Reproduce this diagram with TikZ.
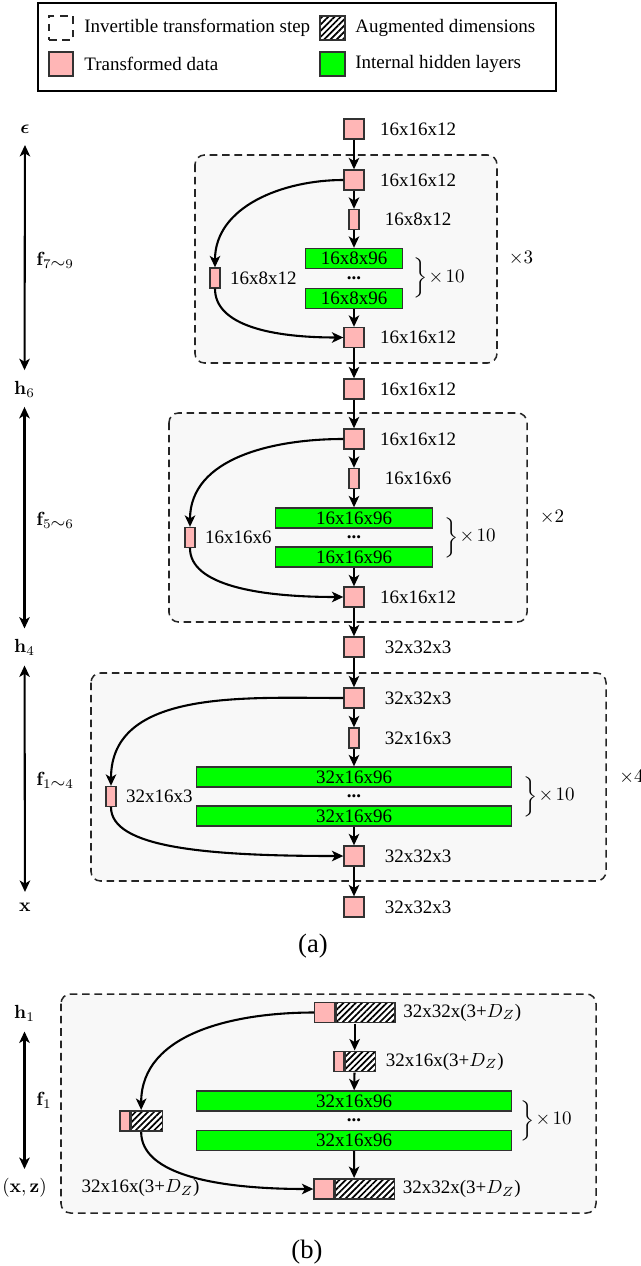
\documentclass[tikz,border=0pt]{standalone}
\usepackage{amsmath}
\usepackage{graphicx}
\usepackage[no-math]{fontspec}
\setmainfont{Liberation Serif}
\usetikzlibrary{arrows.meta,patterns.meta,fit}
\newdimen\mypx \mypx=0.5263pt
\definecolor{pinkbox}{RGB}{255,182,182}
\definecolor{greenbox}{RGB}{0,255,0}
\definecolor{edgegray}{RGB}{50,50,50}
\definecolor{blockbg}{RGB}{248,248,248}
\newcommand{\bracelbl}{\scalebox{1}[0.88]{$\bigg\}$}$\mkern1mu{\times}\mkern2mu 10$}
\newcommand{\dotsrow}{\textbf{...}}
\begin{document}
\begin{tikzpicture}[x=0.5263pt,y=0.5263pt,
  box/.style={draw=edgegray,line width=0.7pt,inner sep=0pt},
  sq/.style={box,fill=pinkbox,minimum width=20\mypx,minimum height=20\mypx},
  sm/.style={sq,minimum width=10\mypx},
  hid/.style={box,fill=greenbox,minimum height=20\mypx,minimum width=#1\mypx},
  hatch/.style={box,preaction={fill=white},pattern={Lines[angle=45,distance=2.3pt,line width=0.9pt]},minimum height=20\mypx,minimum width=#1\mypx},
  mytip/.tip={Stealth[length=6pt,width=5.5pt,inset=1.6pt]},
  arr/.style={line width=1.1pt,-mytip},
  dbl/.style={line width=1.1pt,mytip-mytip},
  lbl/.style={inner sep=0pt},
  blk/.style={draw=black!85,line width=0.8pt,dash pattern=on 4pt off 2.5pt,fill=blockbg,rounded corners=5pt},
  captext/.style={inner sep=0pt,font=\fontsize{14}{16}\selectfont}]
\useasboundingbox (0,0) rectangle (640,-1266);

% ---------- legend ----------
\draw[line width=0.6pt] (38,-3) rectangle (556,-91);
\node[draw=black!85,line width=0.7pt,dash pattern=on 4pt off 3pt,minimum width=24\mypx,minimum height=24\mypx,inner sep=0pt] (lgA) at (61,-28) {};
\node[lbl,anchor=west] (lgAt) at (84,-28) {Invertible transformation step};
\node[hatch=25,minimum height=24\mypx] (lgB) at (332.5,-28) {};
\node[lbl,anchor=west] (lgBt) at (355,-28) {Augmented dimensions};
\node[sq,minimum width=24\mypx,minimum height=24\mypx] (lgC) at (61,-64) {};
\node[lbl,anchor=west] (lgCt) at (84,-64) {Transformed data};
\node[box,fill=greenbox,minimum width=25\mypx,minimum height=24\mypx] (lgD) at (332.5,-64) {};
\node[lbl,anchor=west] (lgDt) at (355,-64) {Internal hidden layers};

% ---------- blocks (a) ----------
\draw[blk] (195,-155) rectangle (497,-363);
\draw[blk] (169,-413) rectangle (527,-622);
\draw[blk] (91,-673) rectangle (606,-881);

% top block f7~9
\node[sq] (s1) at (354,-129) {};
\node[lbl] (t1) at (418,-129) {16x16x12};
\node[sq] (s2) at (354,-180) {};
\node[lbl] (t2) at (418,-180) {16x16x12};
\node[sm] (s3) at (354,-219.5) {};
\node[lbl] (t3) at (418,-219.5) {16x8x12};
\node[hid=97.5] (g1) at (354,-258.5) {16x8x96};
\node[lbl] (d1) at (354,-278) {\dotsrow};
\node[hid=97.5] (g2) at (354,-298.5) {16x8x96};
\node[sm] (s4) at (215,-278) {};
\node[lbl,anchor=west] (t4) at ([xshift=9\mypx]s4.east) {16x8x12};
\node[sq] (s5) at (354,-337.5) {};
\node[lbl] (t5) at (418,-337.5) {16x16x12};
\node[lbl,anchor=west] (b1) at (413,-278) {\bracelbl};
\node[lbl] (m1) at (521,-258) {$\times 3$};

% middle block f5~6
\node[sq] (s6) at (354,-389) {};
\node[lbl] (t6) at (418,-389) {16x16x12};
\node[sq] (s7) at (354,-439) {};
\node[lbl] (t7) at (418,-439) {16x16x12};
\node[sm] (s8) at (354,-478.5) {};
\node[lbl] (t8) at (418,-478.5) {16x16x6};
\node[hid=157.5] (g3) at (354,-518) {16x16x96};
\node[lbl] (d2) at (354,-537.5) {\dotsrow};
\node[hid=157.5] (g4) at (354,-557) {16x16x96};
\node[sm] (s9) at (190,-537.5) {};
\node[lbl,anchor=west] (t9) at ([xshift=9\mypx]s9.east) {16x16x6};
\node[sq] (s10) at (354,-597) {};
\node[lbl] (t10) at (418,-597) {16x16x12};
\node[lbl,anchor=west] (b2) at (444,-537.5) {\bracelbl};
\node[lbl] (m2) at (552,-517) {$\times 2$};

% bottom block f1~4
\node[sq] (s11) at (354,-647) {};
\node[lbl] (t11) at (418,-647) {32x32x3};
\node[sq] (s12) at (354,-698) {};
\node[lbl] (t12) at (418,-698) {32x32x3};
\node[sm] (s13) at (354,-738) {};
\node[lbl] (t13) at (418,-738) {32x16x3};
\node[hid=315] (g5) at (354,-777) {32x16x96};
\node[lbl] (d3) at (354,-796.5) {\dotsrow};
\node[hid=315] (g6) at (354,-816) {32x16x96};
\node[sm] (s14) at (111,-796.5) {};
\node[lbl,anchor=west] (t14) at ([xshift=9\mypx]s14.east) {32x16x3};
\node[sq] (s15) at (354,-856) {};
\node[lbl] (t15) at (418,-856) {32x32x3};
\node[lbl,anchor=west] (b3) at (523,-796.5) {\bracelbl};
\node[lbl,anchor=west] (m3) at (619,-777) {$\times 4$};
\node[sq] (s16) at (354,-907) {};
\node[lbl] (t16) at (418,-907) {32x32x3};

% connectors (a)
\draw[arr] (s1) -- (s2);
\draw[arr] (s2) -- (s3);
\draw[arr] (s3) -- (g1);
\draw[arr] (g2) -- (s5);
\draw[arr] (s5) -- (s6);
\draw[arr] (s2.west) to[out=180,in=90] (s4.north);
\draw[arr] (s4.south) .. controls +(0,-37) and +(-71,0) .. (s5.west);

\draw[arr] (s6) -- (s7);
\draw[arr] (s7) -- (s8);
\draw[arr] (s8) -- (g3);
\draw[arr] (g4) -- (s10);
\draw[arr] (s10) -- (s11);
\draw[arr] (s7.west) to[out=180,in=90] (s9.north);
\draw[arr] (s9.south) .. controls +(0,-37) and +(-85,0) .. (s10.west);

\draw[arr] (s11) -- (s12);
\draw[arr] (s12) -- (s13);
\draw[arr] (s13) -- (g5);
\draw[arr] (g6) -- (s15);
\draw[arr] (s15) -- (s16);
\draw[arr] (s12.west) to[out=180,in=90] (s14.north);
\draw[arr] (s14.south) .. controls +(0,-40) and +(-140,0) .. (s15.west);

% left axis (a)
\node[lbl] (eps) at (25,-129) {$\boldsymbol{\epsilon}$};
\node[lbl] (h6) at (24.5,-389) {$\mathbf{h}_6$};
\node[lbl] (h4) at (24.5,-647) {$\mathbf{h}_4$};
\node[lbl] (xl) at (25,-907) {$\mathbf{x}$};
\node[lbl,anchor=west] (f79) at (36,-260) {$\mathbf{f}_{7\mbox{$\sim$}9}$};
\node[lbl,anchor=west] (f56) at (36,-520) {$\mathbf{f}_{5\mbox{$\sim$}6}$};
\node[lbl,anchor=west] (f14) at (36,-780) {$\mathbf{f}_{1\mbox{$\sim$}4}$};
\draw[dbl,shorten <=6pt,shorten >=5.5pt] (eps) -- (h6);
\draw[dbl,shorten <=5pt,shorten >=5.3pt] (h6) -- (h4);
\draw[dbl,shorten <=5.3pt,shorten >=5.5pt] (h4) -- (xl);

\node[captext] (capa) at (313,-946) {(a)};

% ---------- (b) ----------
\draw[blk] (61,-994) rectangle (596,-1213);
\node[sq] (p1) at (324.5,-1012.5) {};
\node[hatch=59,anchor=west] (a1) at (p1.east) {};
\node[fit=(p1)(a1),inner sep=0pt] (c1) {};
\node[lbl,anchor=west] (u1) at ([xshift=7\mypx]c1.east) {32x32x(3+$D_Z$)};
\node[sm] (p2) at (339,-1061.5) {};
\node[hatch=30,anchor=west] (a2) at (p2.east) {};
\node[fit=(p2)(a2),inner sep=0pt] (c2) {};
\node[lbl,anchor=west] (u2) at ([xshift=9\mypx]c2.east) {32x16x(3+$D_Z$)};
\node[hid=315] (g7) at (354,-1101) {32x16x96};
\node[lbl] (d4) at (354,-1120.5) {\dotsrow};
\node[hid=315] (g8) at (354,-1140.5) {32x16x96};
\node[sm] (p3) at (125,-1121) {};
\node[hatch=31,anchor=west] (a3) at (p3.east) {};
\node[fit=(p3)(a3),inner sep=0pt] (c3) {};
\node[lbl] (u3) at (140.5,-1188) {32x16x(3+$D_Z$)};
\node[sq] (p4) at (324,-1189) {};
\node[hatch=59,anchor=west] (a4) at (p4.east) {};
\node[fit=(p4)(a4),inner sep=0pt] (c4) {};
\node[lbl,anchor=west] (u4) at ([xshift=7\mypx]c4.east) {32x32x(3+$D_Z$)};
\node[lbl,anchor=west] (b4) at (520,-1120.5) {\bracelbl};

\draw[arr] (c1) -- (c2);
\draw[arr] (c2) -- (g7);
\draw[arr] (g8) -- (c4);
\draw[arr] (p1.west) to[out=180,in=90] (c3.north);
\draw[arr] (c3.south) .. controls +(0,-43) and +(-95,0) .. (p4.west);

\node[lbl] (h1) at (24.5,-1013) {$\mathbf{h}_1$};
\node[lbl,anchor=west] (f1) at (36,-1100) {$\mathbf{f}_1$};
\node[lbl] (xz) at (24.5,-1188) {$(\mathbf{x},\mathbf{z})$};
\draw[dbl,shorten <=5.3pt,shorten >=4.8pt] (h1) -- (xz);

\node[captext] (capb) at (307,-1252) {(b)};
\end{tikzpicture}
\end{document}
